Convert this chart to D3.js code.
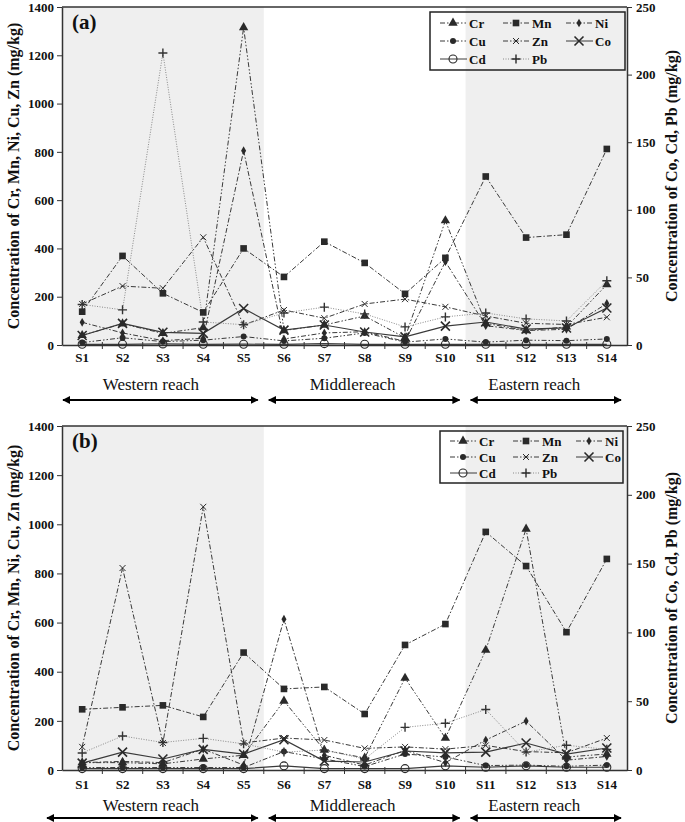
<!DOCTYPE html>
<html>
<head>
<meta charset="utf-8">
<script src="https://cdn.jsdelivr.net/npm/d3@7"></script>
<style>
  body { margin: 0; background: #fff; }
  text { font-family: "Liberation Serif", "Times New Roman", serif; fill: #111; }
</style>
</head>
<body>
<svg id="chart" width="685" height="822"></svg>
<script>
var sites = ["S1", "S2", "S3", "S4", "S5", "S6", "S7", "S8", "S9", "S10", "S11", "S12", "S13", "S14"];
var leftTicks = [0, 200, 400, 600, 800, 1000, 1200, 1400];
var rightTicks = [0, 50, 100, 150, 200, 250];
var reaches = ["Western reach", "Middlereach", "Eastern reach"];
var reachSites = [["S1", "S5"], ["S6", "S10"], ["S11", "S14"]];

// panel (a)
var crA = [40, 88, 48, 72, 1315, 60, 83, 120, 30, 515, 90, 60, 75, 250];
var mnA = [138, 369, 214, 135, 400, 282, 428, 340, 212, 361, 698, 445, 457, 812];
var niA = [94, 50, 18, 28, 805, 25, 50, 55, 15, 345, 80, 60, 65, 172];
var cuA = [10, 30, 14, 20, 35, 17, 28, 50, 12, 25, 12, 20, 18, 25];
var znA = [170, 244, 235, 446, 83, 145, 111, 170, 190, 158, 120, 90, 85, 115];
var coA = [7, 16, 9.4, 8.6, 27, 11, 14.8, 9.6, 6, 14, 17, 11.8, 12.6, 27.4];
var cdA = [0.5, 0.5, 0.8, 0.5, 0.6, 0.5, 1, 0.5, 0.5, 0.5, 0.5, 0.5, 0.5, 0.5];
var pbA = [30, 26, 216, 17, 15, 23.7, 28, 23, 13.4, 20.8, 23.7, 19.3, 17.8, 47.5];

// panel (b)
var crB = [30, 30, 25, 45, 60, 281, 81, 49, 374, 130, 488, 981, 53, 65];
var mnB = [247, 255, 263, 216, 478, 330, 338, 228, 509, 594, 969, 830, 561, 859];
var niB = [30, 35, 30, 85, 20, 614, 60, 20, 80, 30, 122, 199, 40, 55];
var cuB = [10, 10, 10, 10, 10, 75, 45, 14, 65, 53, 18, 20, 15, 20];
var znB = [94, 822, 110, 1071, 110, 130, 122, 88, 94, 85, 100, 75, 70, 130];
var coB = [5, 13, 8, 15, 11.6, 22, 6.5, 5.8, 13.8, 12.4, 13, 19.6, 11.6, 16];
var cdB = [1, 1, 1, 1, 1, 3, 1, 1, 1, 3, 2, 3, 2, 2];
var pbB = [12.4, 24.7, 20, 23, 19, 13, 14.5, 8, 31, 34, 44, 13, 18, 15];

var series = [
  {name: "Cr", axis: "L", dash: "5,2,1.5,2,1.5,2", mark: "tri"},
  {name: "Mn", axis: "L", dash: "5,2,1.5,2", mark: "sq"},
  {name: "Ni", axis: "L", dash: "5,2,1.5,2", mark: "dia"},
  {name: "Cu", axis: "L", dash: "5,2,1.5,2,1.5,2", mark: "dot"},
  {name: "Zn", axis: "L", dash: "5,2,1.5,2", mark: "x"},
  {name: "Co", axis: "R", dash: null, mark: "X"},
  {name: "Cd", axis: "R", dash: null, mark: "o"},
  {name: "Pb", axis: "R", dash: "1,1.5", mark: "+"}
];

var panels = [
  {label: "(a)", top: 7, bottom: 345, legend: [430, 12, 195, 58], arrowY: 400, reachY: 390, tickY: 362, arrowStart: 1,
   data: {Cr: crA, Mn: mnA, Ni: niA, Cu: cuA, Zn: znA, Co: coA, Cd: cdA, Pb: pbA}},
  {label: "(b)", top: 426, bottom: 770, legend: [440, 431, 183, 52], arrowY: 818, reachY: 811, tickY: 789, arrowStart: -15,
   data: {Cr: crB, Mn: mnB, Ni: niB, Cu: cuB, Zn: znB, Co: coB, Cd: cdB, Pb: pbB}}
];

var svg = d3.select("#chart");
var x = d3.scaleBand().domain(sites).range([62, 627]);
var xc = function(s) { return x(s) + x.bandwidth() / 2; };

var defs = svg.append("defs");
defs.append("marker").attr("id", "ah").attr("viewBox", "0 0 10 10")
  .attr("refX", 9).attr("refY", 5).attr("markerWidth", 4).attr("markerHeight", 4)
  .attr("orient", "auto-start-reverse")
  .append("path").attr("d", "M0,0L10,5L0,10Z").attr("fill", "#000");

function drawMark(g, type, color) {
  if (type == "tri") g.append("path").attr("d", d3.symbol(d3.symbolTriangle, 38)()).attr("fill", color);
  else if (type == "sq") g.append("path").attr("d", d3.symbol(d3.symbolSquare, 44)()).attr("fill", color);
  else if (type == "dia") g.append("path").attr("d", d3.symbol(d3.symbolDiamond, 22)()).attr("fill", color);
  else if (type == "dot") g.append("circle").attr("r", 3).attr("fill", color);
  else if (type == "x") g.append("path").attr("d", "M-3,-3L3,3M-3,3L3,-3").attr("stroke", color).attr("stroke-width", 1);
  else if (type == "X") g.append("path").attr("d", "M-4.5,-4.5L4.5,4.5M-4.5,4.5L4.5,-4.5").attr("stroke", color).attr("stroke-width", 1.6);
  else if (type == "o") g.append("circle").attr("r", 4).attr("fill", "none").attr("stroke", color).attr("stroke-width", 1.1);
  else if (type == "+") g.append("path").attr("d", "M-4.5,0H4.5M0,-4.5V4.5").attr("stroke", color).attr("stroke-width", 1.4);
}

panels.forEach(function(p) {
  var yL = d3.scaleLinear().domain([0, 1400]).range([p.bottom, p.top]);
  var yR = d3.scaleLinear().domain([0, 250]).range([p.bottom, p.top]);
  var g = svg.append("g");

  // shaded reaches
  [reachSites[0], reachSites[2]].forEach(function(r) {
    g.append("rect")
      .attr("x", x(r[0])).attr("y", p.top)
      .attr("width", x(r[1]) + x.bandwidth() - x(r[0]))
      .attr("height", p.bottom - p.top)
      .attr("fill", "#efefef");
  });

  // frame top
  g.append("line").attr("x1", 62).attr("x2", 627).attr("y1", p.top).attr("y2", p.top)
    .attr("stroke", "#333").attr("stroke-width", 1.5);

  var axL = g.append("g").attr("transform", "translate(62,0)")
    .call(d3.axisLeft(yL).tickValues(leftTicks).tickFormat(d3.format("d")).tickSize(5).tickSizeOuter(0).tickPadding(3));
  var axR = g.append("g").attr("transform", "translate(627,0)")
    .call(d3.axisRight(yR).tickValues(rightTicks).tickFormat(d3.format("d")).tickSize(5).tickSizeOuter(0).tickPadding(4));
  var axB = g.append("g").attr("transform", "translate(0," + p.bottom + ")")
    .call(d3.axisBottom(x).tickSize(0).tickPadding(0));
  axB.selectAll(".tick text").attr("y", p.tickY - p.bottom).attr("dy", 0);
  [axL, axR, axB].forEach(function(a) {
    a.attr("font-family", null);
    a.select(".domain").attr("stroke", "#333").attr("stroke-width", 1.5);
    a.selectAll(".tick line").attr("stroke", "#333");
    a.selectAll(".tick text").attr("font-weight", "bold").attr("font-size", 13).attr("fill", "#111");
  });
  // x boundary ticks
  g.selectAll(".bt").data(sites.slice(1)).enter().append("line")
    .attr("x1", function(d) { return x(d); }).attr("x2", function(d) { return x(d); })
    .attr("y1", p.bottom - 3).attr("y2", p.bottom + 4).attr("stroke", "#333");

  // lines
  series.forEach(function(s) {
    var yy = s.axis == "L" ? yL : yR;
    var vals = p.data[s.name];
    var line = d3.line().x(function(d, i) { return xc(sites[i]); }).y(function(d) { return yy(d); });
    g.append("path").datum(vals).attr("d", line).attr("fill", "none")
      .attr("stroke", s.name == "Pb" ? "#8a8a8a" : "#3a3a3a")
      .attr("stroke-width", s.name == "Co" || s.name == "Cd" ? 1.2 : 1)
      .attr("stroke-dasharray", s.dash);
  });
  series.forEach(function(s) {
    var yy = s.axis == "L" ? yL : yR;
    p.data[s.name].forEach(function(v, i) {
      var m = g.append("g").attr("transform", "translate(" + xc(sites[i]) + "," + yy(v) + ")");
      drawMark(m, s.mark, s.name == "Pb" ? "#333" : "#2a2a2a");
    });
  });

  // panel label
  g.append("text").attr("x", 72).attr("y", p.top + 22).attr("font-size", 21)
    .attr("font-weight", "bold").text(p.label);

  // legend
  var L = p.legend;
  g.append("rect").attr("x", L[0]).attr("y", L[1]).attr("width", L[2]).attr("height", L[3])
    .attr("fill", "none").attr("stroke", "#222").attr("stroke-width", 1.5);
  var rowH = (L[3] - 4) / 3;
  series.forEach(function(s, i) {
    var col = i % 3, row = Math.floor(i / 3);
    var lx = L[0] + 10 + col * 63, ly = L[1] + 2 + rowH * (row + 0.5);
    var lg = g.append("g");
    lg.append("line").attr("x1", lx).attr("x2", lx + 27).attr("y1", ly).attr("y2", ly)
      .attr("stroke", s.name == "Pb" ? "#8a8a8a" : "#3a3a3a").attr("stroke-dasharray", s.dash);
    drawMark(lg.append("g").attr("transform", "translate(" + (lx + 13) + "," + ly + ")"), s.mark, "#2a2a2a");
    lg.append("text").attr("x", lx + 29).attr("y", ly + 4.5).attr("font-size", 13)
      .attr("font-weight", "bold").text(s.name);
  });

  // axis titles
  var mid = (p.top + p.bottom) / 2;
  g.append("text").attr("transform", "translate(19," + mid + ") rotate(-90)")
    .attr("text-anchor", "middle").attr("font-size", 16).attr("font-weight", "bold")
    .text("Concentration of Cr, Mn, Ni, Cu, Zn (mg/kg)");
  g.append("text").attr("transform", "translate(677," + mid + ") rotate(-90)")
    .attr("text-anchor", "middle").attr("font-size", 16).attr("font-weight", "bold")
    .text("Concentration of Co, Cd, Pb (mg/kg)");

  // reaches
  reachSites.forEach(function(r, i) {
    var x0 = x(r[0]), x1 = x(r[1]) + x.bandwidth();
    g.append("line").attr("x1", x0 + (i == 0 ? p.arrowStart : 5)).attr("x2", x1 - 6)
      .attr("y1", p.arrowY).attr("y2", p.arrowY)
      .attr("stroke", "#000").attr("stroke-width", 2)
      .attr("marker-start", "url(#ah)").attr("marker-end", "url(#ah)");
    g.append("text").attr("x", (x0 + x1) / 2 - 12).attr("y", p.reachY)
      .attr("text-anchor", "middle").attr("font-size", 17).text(reaches[i]);
  });
});
</script>
</body>
</html>
